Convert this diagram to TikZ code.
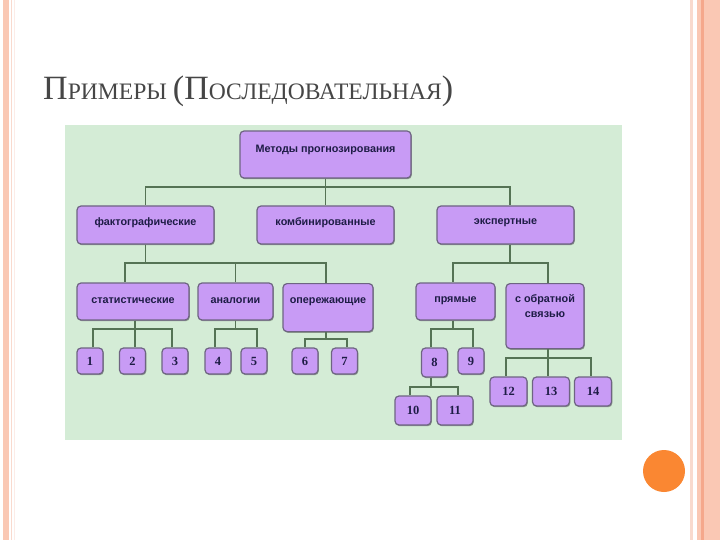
\documentclass[tikz,border=0pt]{standalone}
\usepackage{fontspec}
\usetikzlibrary{shadows}
\setmainfont{Liberation Serif}
\newfontfamily\boxfont{Liberation Sans}
\newfontfamily\numfont{Liberation Serif}
\definecolor{bggreen}{RGB}{212,236,214}
\definecolor{boxfill}{RGB}{200,155,245}
\definecolor{boxline}{RGB}{110,100,130}
\definecolor{conncol}{RGB}{85,115,85}
\definecolor{txtcol}{RGB}{30,28,70}
\definecolor{pinkband}{RGB}{250,200,180}
\definecolor{pinkdark}{RGB}{245,168,140}
\definecolor{pinklight}{RGB}{249,218,206}
\definecolor{dotorange}{RGB}{250,135,50}
\definecolor{titlecol}{RGB}{70,70,70}
\newcommand\tbig{\fontsize{34}{34}\selectfont}
\newcommand\tsm{\fontsize{23.6}{23.6}\selectfont}
\newcommand\upby[2]{\raisebox{#1}[\height][\depth]{#2}}
\newcommand\branchto[4]{%
  \foreach \ch/\sh in {#4}{%
    \coordinate (pp) at ([xshift=#2]#1.south);
    \coordinate (cc) at ([xshift=\sh]\ch.north);
    \coordinate (bb) at (0,#3);
    \draw[conn] (pp) -- (pp |- bb) -| (cc);
  }}
\tikzset{
  mbox/.style={draw=boxline, line width=1.2pt, fill=boxfill, rounded corners=4pt,
    font=\boxfont\bfseries\fontsize{10.8}{14}\selectfont, text=txtcol,
    inner sep=1pt, align=center,
    drop shadow={shadow xshift=0.8pt, shadow yshift=-1.2pt, opacity=0.35, fill=black}},
  nbox/.style={mbox, font=\numfont\bfseries\fontsize{12.5}{14}\selectfont},
  conn/.style={draw=conncol, line width=1.5pt},
  title/.style={inner sep=0pt, text=titlecol}
}
\begin{document}
\begin{tikzpicture}[x=1pt,y=-1pt]
\useasboundingbox (0,0) rectangle (720,540);
\fill[white] (0,0) rectangle (720,540);
% borders
\fill[pinkband] (3,0) rectangle (9,540);
\draw[pinklight, line width=1pt] (11.5,0) -- (11.5,540);
\draw[pinklight!50!white, line width=1pt] (14,0) -- (14,540);
\draw[pinklight, line width=3pt] (691,0) -- (691,540);
\fill[pinkband] (697,0) rectangle (720,540);
\draw[pinkdark, line width=2.5pt] (702.5,0) -- (702.5,540);
\fill[dotorange] (664,471) circle[radius=21pt];
% title
\node[title, anchor=base west] (title) at (43,100)
  {\tbig П\tsm РИМЕРЫ \tbig(П\tsm ОСЛЕДОВАТЕЛЬНАЯ\tbig)};
% green panel
\fill[bggreen] (65,125) rectangle (622,440);
% nodes
\node[mbox, minimum width=171pt, minimum height=47pt] (top) at (325.5,154.5) {\upby{5pt}{Методы прогнозирования}};
\node[mbox, minimum width=137pt, minimum height=38pt] (fakt) at (145.5,225) {\upby{2pt}{фактографические}};
\node[mbox, minimum width=137pt, minimum height=38pt] (komb) at (325.5,225) {\upby{2pt}{комбинированные}};
\node[mbox, minimum width=137pt, minimum height=38pt] (eksp) at (505.5,225) {\upby{2pt}{экспертные}};
\node[mbox, minimum width=112pt, minimum height=37pt] (stat) at (133,301.5) {\upby{1pt}{статистические}};
\node[mbox, minimum width=75pt, minimum height=37pt] (anal) at (235.5,301.5) {\upby{1pt}{аналогии}};
\node[mbox, minimum width=90pt, minimum height=48pt, anchor=north] (oper) at (328,283) {\rule{0pt}{13pt}опережающие\\[7pt]};
\node[mbox, minimum width=79pt, minimum height=37pt] (pryam) at (455.5,301.5) {\upby{1pt}{прямые}};
\node[mbox, minimum width=78pt, minimum height=65pt, anchor=north] (sobr) at (545,283) {\rule{0pt}{13pt}с обратной\\[1pt]связью\\[11pt]};
\node[nbox, minimum width=26pt, minimum height=26pt] (n1) at (90,361) {1};
\node[nbox, minimum width=26pt, minimum height=26pt] (n2) at (132.5,361) {2};
\node[nbox, minimum width=26pt, minimum height=26pt] (n3) at (175,361) {3};
\node[nbox, minimum width=26pt, minimum height=26pt] (n4) at (218,361) {4};
\node[nbox, minimum width=26pt, minimum height=26pt] (n5) at (254,361) {5};
\node[nbox, minimum width=26pt, minimum height=26pt] (n6) at (305,361) {6};
\node[nbox, minimum width=26pt, minimum height=26pt] (n7) at (344.5,361) {7};
\node[nbox, minimum width=26pt, minimum height=29pt] (n8) at (434.5,362.5) {8};
\node[nbox, minimum width=26pt, minimum height=26pt] (n9) at (471,361) {9};
\node[nbox, minimum width=36pt, minimum height=29pt] (n10) at (413,410.5) {10};
\node[nbox, minimum width=36pt, minimum height=29pt] (n11) at (455,410.5) {11};
\node[nbox, minimum width=37pt, minimum height=29pt] (n12) at (508.5,391.5) {12};
\node[nbox, minimum width=37pt, minimum height=29pt] (n13) at (551,391.5) {13};
\node[nbox, minimum width=37pt, minimum height=29pt] (n14) at (593,391.5) {14};
% connectors
\branchto{top}{0pt}{187}{fakt/0pt, komb/0pt, eksp/4.5pt}
\branchto{fakt}{0pt}{263}{stat/-8pt, anal/0pt, oper/-2pt}
\branchto{eksp}{4.5pt}{263}{pryam/-2.5pt, sobr/3pt}
\branchto{stat}{2pt}{329}{n1/3pt, n2/2.5pt, n3/-3pt}
\branchto{anal}{0pt}{329}{n4/-3pt, n5/3pt}
\branchto{oper}{-2pt}{339}{n6/0pt, n7/2.5pt}
\branchto{pryam}{-2.5pt}{329}{n8/-3.5pt, n9/2pt}
\branchto{n8}{-3.5pt}{387}{n10/-3pt, n11/3pt}
\branchto{sobr}{3pt}{358}{n12/-2.5pt, n13/-3pt, n14/-2pt}
\end{tikzpicture}
\end{document}
